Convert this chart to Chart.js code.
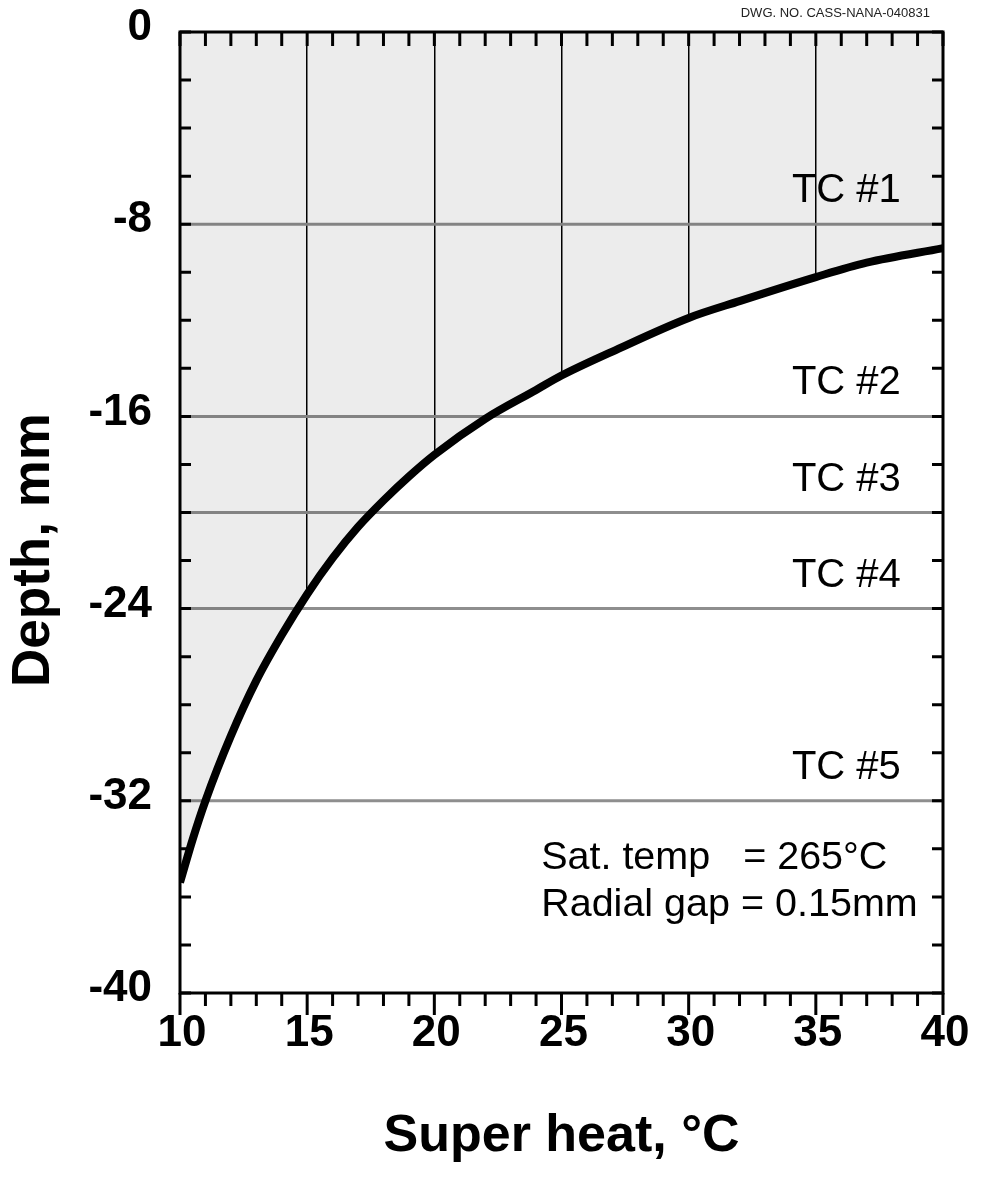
<!DOCTYPE html>
<html>
<head>
<meta charset="utf-8">
<title>Depth vs super heat</title>
<script src="https://cdn.jsdelivr.net/npm/chart.js@4.4.0/dist/chart.umd.min.js"></script>
<style>
  body { margin: 0; background: #fff; }
</style>
</head>
<body>
<canvas id="chart" width="981" height="1183"></canvas>
<script>
// values
const superHeat = [10, 10.5, 11, 12, 13, 14, 15, 16, 17, 18, 19, 20, 22, 24, 25, 27, 30, 32, 35, 37, 40];
const depth = [-35.4, -33.6, -32.0, -29.3, -27.0, -25.1, -23.4, -21.9, -20.6, -19.5, -18.5, -17.6, -16.1, -14.9, -14.3, -13.3, -11.9, -11.2, -10.2, -9.6, -9.0];
const tcDepths = [-8, -16, -20, -24, -32];
const tcNames = ['TC #1', 'TC #2', 'TC #3', 'TC #4', 'TC #5'];
const xTicks = [10, 15, 20, 25, 30, 35, 40];
const yTicks = [0, -8, -16, -24, -32, -40];
const notes = ['Sat. temp   = 265\u00B0C', 'Radial gap = 0.15mm'];
const drawingNo = 'DWG. NO. CASS-NANA-040831';
const yTitle = 'Depth, mm';

const curve = superHeat.map((x, i) => ({ x: x, y: depth[i] }));
const font = 'Liberation Sans, Arial, sans-serif';

const datasets = [
  { data: curve, borderColor: '#000', borderWidth: 8, pointRadius: 0, fill: false,
    cubicInterpolationMode: 'monotone', order: 0 },
  { data: curve, borderWidth: 0, pointRadius: 0, fill: 'start', backgroundColor: '#fff',
    cubicInterpolationMode: 'monotone', order: 5 },
  { data: curve, borderWidth: 0, pointRadius: 0, fill: 'end', backgroundColor: 'rgba(0,0,0,0.075)',
    cubicInterpolationMode: 'monotone', order: 2 }
];
tcDepths.forEach(d => {
  datasets.push({ data: [{ x: 10, y: d }, { x: 40, y: d }], borderColor: '#8e8e8e',
    borderWidth: 3, pointRadius: 0, fill: false, order: 3 });
});

const frame = {
  id: 'frame',
  afterDatasetsDraw(chart) {
    const c = chart.ctx;
    const a = chart.chartArea;
    const xs = chart.scales.x, ys = chart.scales.y;
    c.save();
    c.strokeStyle = '#000';
    c.lineWidth = 3;
    c.strokeRect(a.left, a.top, a.right - a.left, a.bottom - a.top);

    // minor / major ticks on x
    for (let v = 10; v <= 40; v++) {
      const px = xs.getPixelForValue(v);
      const major = v % 5 === 0;
      c.beginPath();
      c.moveTo(px, a.bottom);
      c.lineTo(px, a.bottom + (major ? 22 : 13));
      c.moveTo(px, a.top);
      c.lineTo(px, a.top + 14);
      c.stroke();
    }
    // ticks on y, both sides, pointing in
    for (let v = 0; v >= -40; v -= 2) {
      const py = ys.getPixelForValue(v);
      c.beginPath();
      c.moveTo(a.left, py);
      c.lineTo(a.left + 11, py);
      c.moveTo(a.right, py);
      c.lineTo(a.right - 11, py);
      c.stroke();
    }

    c.fillStyle = '#000';
    c.font = '40px ' + font;
    c.textAlign = 'center';
    c.textBaseline = 'middle';
    tcDepths.forEach((d, i) => {
      c.fillText(tcNames[i], xs.getPixelForValue(36.2), ys.getPixelForValue(d) - 33);
    });

    c.font = '39.5px ' + font;
    c.textAlign = 'left';
    notes.forEach((t, i) => {
      c.fillText(t, xs.getPixelForValue(24.2), ys.getPixelForValue(-34.4) + i * 47);
    });

    c.font = '13px ' + font;
    c.textAlign = 'right';
    c.fillStyle = '#222';
    c.fillText(drawingNo, 930, 13);

    // y axis title
    c.fillStyle = '#000';
    c.font = 'bold 53px ' + font;
    c.textAlign = 'center';
    c.translate(34, 550);
    c.rotate(-Math.PI / 2);
    c.fillText(yTitle, 0, 0);
    c.restore();
  }
};

new Chart(document.getElementById('chart').getContext('2d'), {
  type: 'line',
  data: { datasets: datasets },
  options: {
    responsive: false,
    animation: false,
    layout: { padding: { left: 0, top: 32, right: 38, bottom: 0 } },
    plugins: { legend: { display: false }, tooltip: { enabled: false } },
    scales: {
      x: {
        type: 'linear', min: 10, max: 40,
        afterBuildTicks: s => { s.ticks = xTicks.map(v => ({ value: v })); },
        afterFit: s => { s.height = 190; s.paddingLeft = 0; s.paddingRight = 0; },
        grid: { color: '#000', lineWidth: 1.5, drawTicks: false },
        border: { display: false },
        ticks: { padding: 14, labelOffset: 2, color: '#000', font: { family: font, size: 44, weight: 'bold' } },
        title: { display: true, text: 'Super heat, \u00B0C', color: '#000',
          padding: { bottom: 15 }, font: { family: font, size: 52, weight: 'bold', lineHeight: 1.2 } }
      },
      y: {
        type: 'linear', min: -40, max: 0,
        afterBuildTicks: s => { s.ticks = yTicks.map(v => ({ value: v })); },
        afterFit: s => { s.width = 180; s.paddingTop = 0; s.paddingBottom = 0; },
        grid: { display: false, drawTicks: false },
        border: { display: false },
        ticks: { padding: 28, labelOffset: -4, color: '#000', font: { family: font, size: 44, weight: 'bold' } }
      }
    }
  },
  plugins: [frame]
});
</script>
</body>
</html>
